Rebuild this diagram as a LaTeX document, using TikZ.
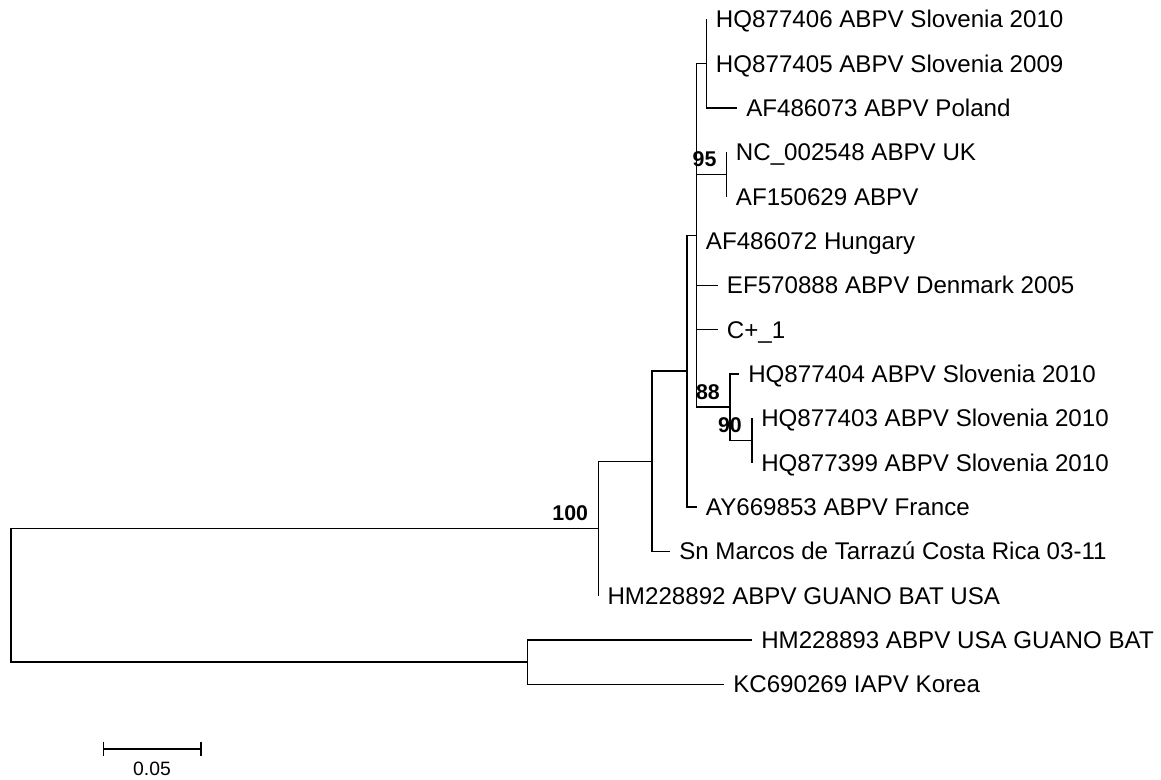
\documentclass[tikz,border=0pt]{standalone}
\usepackage{fontspec}
\setmainfont{Liberation Sans}
\begin{document}
\begin{tikzpicture}[x=0.75pt,y=-0.75pt,
  br/.style={line width=1.1pt, line join=miter},
  leaf/.style={anchor=base west, inner sep=0pt, xshift=6.75pt, yshift=-6.5pt,
    font=\fontsize{18.1}{21}\selectfont},
  boot/.style={anchor=base east, inner sep=0pt, xshift=-7.5pt, yshift=6pt,
    font=\fontsize{16}{19}\selectfont\bfseries},
  scaletext/.style={anchor=base, inner sep=0pt, font=\fontsize{14.5}{17}\selectfont}]
\useasboundingbox (0,0) rectangle (1161,779);
% internal nodes
\coordinate (root) at (11,595.3);
\coordinate (A) at (598.3,528.4);
\coordinate (B) at (527.7,662.2);
\coordinate (C) at (652,461.3);
\coordinate (D) at (687,371.2);
\coordinate (E) at (696.7,235.4);
\coordinate (F) at (706.7,63.6);
\coordinate (G) at (726.7,174.5);
\coordinate (H) at (730,407.2);
\coordinate (I) at (752,440.5);
% tips
\coordinate (t1) at (706.7,19.3);
\coordinate (t2) at (706.7,63.6);
\coordinate (t3) at (737,108);
\coordinate (t4) at (726.7,152.3);
\coordinate (t5) at (726.7,196.6);
\coordinate (t6) at (696.7,241);
\coordinate (t7) at (717.7,285.3);
\coordinate (t8) at (717.7,329.6);
\coordinate (t9) at (739,374);
\coordinate (t10) at (752,418.3);
\coordinate (t11) at (752,462.6);
\coordinate (t12) at (696.7,507);
\coordinate (t13) at (670,551.3);
\coordinate (t14) at (598.3,595.6);
\coordinate (t15) at (752,640);
\coordinate (t16) at (724,684.3);
% branches
\draw[br] (root) |- (A);
\draw[br] (root) |- (B);
\draw[br] (A) |- (C);
\draw[br] (A) |- (t14);
\draw[br] (C) |- (D);
\draw[br] (C) |- (t13);
\draw[br] (D) |- (E);
\draw[br] (D) |- (t12);
\draw[br] (E) |- (F);
\draw[br] (E) |- (G);
\draw[br] (E) |- (t6);
\draw[br] (E) |- (t7);
\draw[br] (E) |- (t8);
\draw[br] (E) |- (H);
\draw[br] (F) |- (t1);
\draw[br] (F) |- (t2);
\draw[br] (F) |- (t3);
\draw[br] (G) |- (t4);
\draw[br] (G) |- (t5);
\draw[br] (H) |- (t9);
\draw[br] (H) |- (I);
\draw[br] (I) |- (t10);
\draw[br] (I) |- (t11);
\draw[br] (B) |- (t15);
\draw[br] (B) |- (t16);
% leaf labels
\node[leaf] (l1) at (t1) {HQ877406 ABPV Slovenia 2010};
\node[leaf] (l2) at (t2) {HQ877405 ABPV Slovenia 2009};
\node[leaf] (l3) at (t3) {AF486073 ABPV Poland};
\node[leaf] (l4) at (t4) {NC\_002548 ABPV UK};
\node[leaf] (l5) at (t5) {AF150629 ABPV};
\node[leaf] (l6) at (t6) {AF486072 Hungary};
\node[leaf] (l7) at (t7) {EF570888 ABPV Denmark 2005};
\node[leaf] (l8) at (t8) {C+\_1};
\node[leaf] (l9) at (t9) {HQ877404 ABPV Slovenia 2010};
\node[leaf] (l10) at (t10) {HQ877403 ABPV Slovenia 2010};
\node[leaf] (l11) at (t11) {HQ877399 ABPV Slovenia 2010};
\node[leaf] (l12) at (t12) {AY669853 ABPV France};
\node[leaf] (l13) at (t13) {Sn Marcos de Tarrazú Costa Rica 03-11};
\node[leaf] (l14) at (t14) {HM228892 ABPV GUANO BAT USA};
\node[leaf] (l15) at (t15) {HM228893 ABPV USA GUANO BAT};
\node[leaf] (l16) at (t16) {KC690269 IAPV Korea};
% bootstrap values
\node[boot] (b100) at (A) {100};
\node[boot] (b95) at (G) {95};
\node[boot] (b88) at (H) {88};
\node[boot] (b90) at (I) {90};
% scale bar
\coordinate (s1) at (103.3,749);
\coordinate (s2) at (201,749);
\draw[br] (s1) -- (s2);
\draw[br] ([yshift=5.6pt]s1) -- ([yshift=-5.6pt]s1);
\draw[br] ([yshift=5.6pt]s2) -- ([yshift=-5.6pt]s2);
\node[scaletext] (sl) at (152,775) {0.05};
\end{tikzpicture}
\end{document}
